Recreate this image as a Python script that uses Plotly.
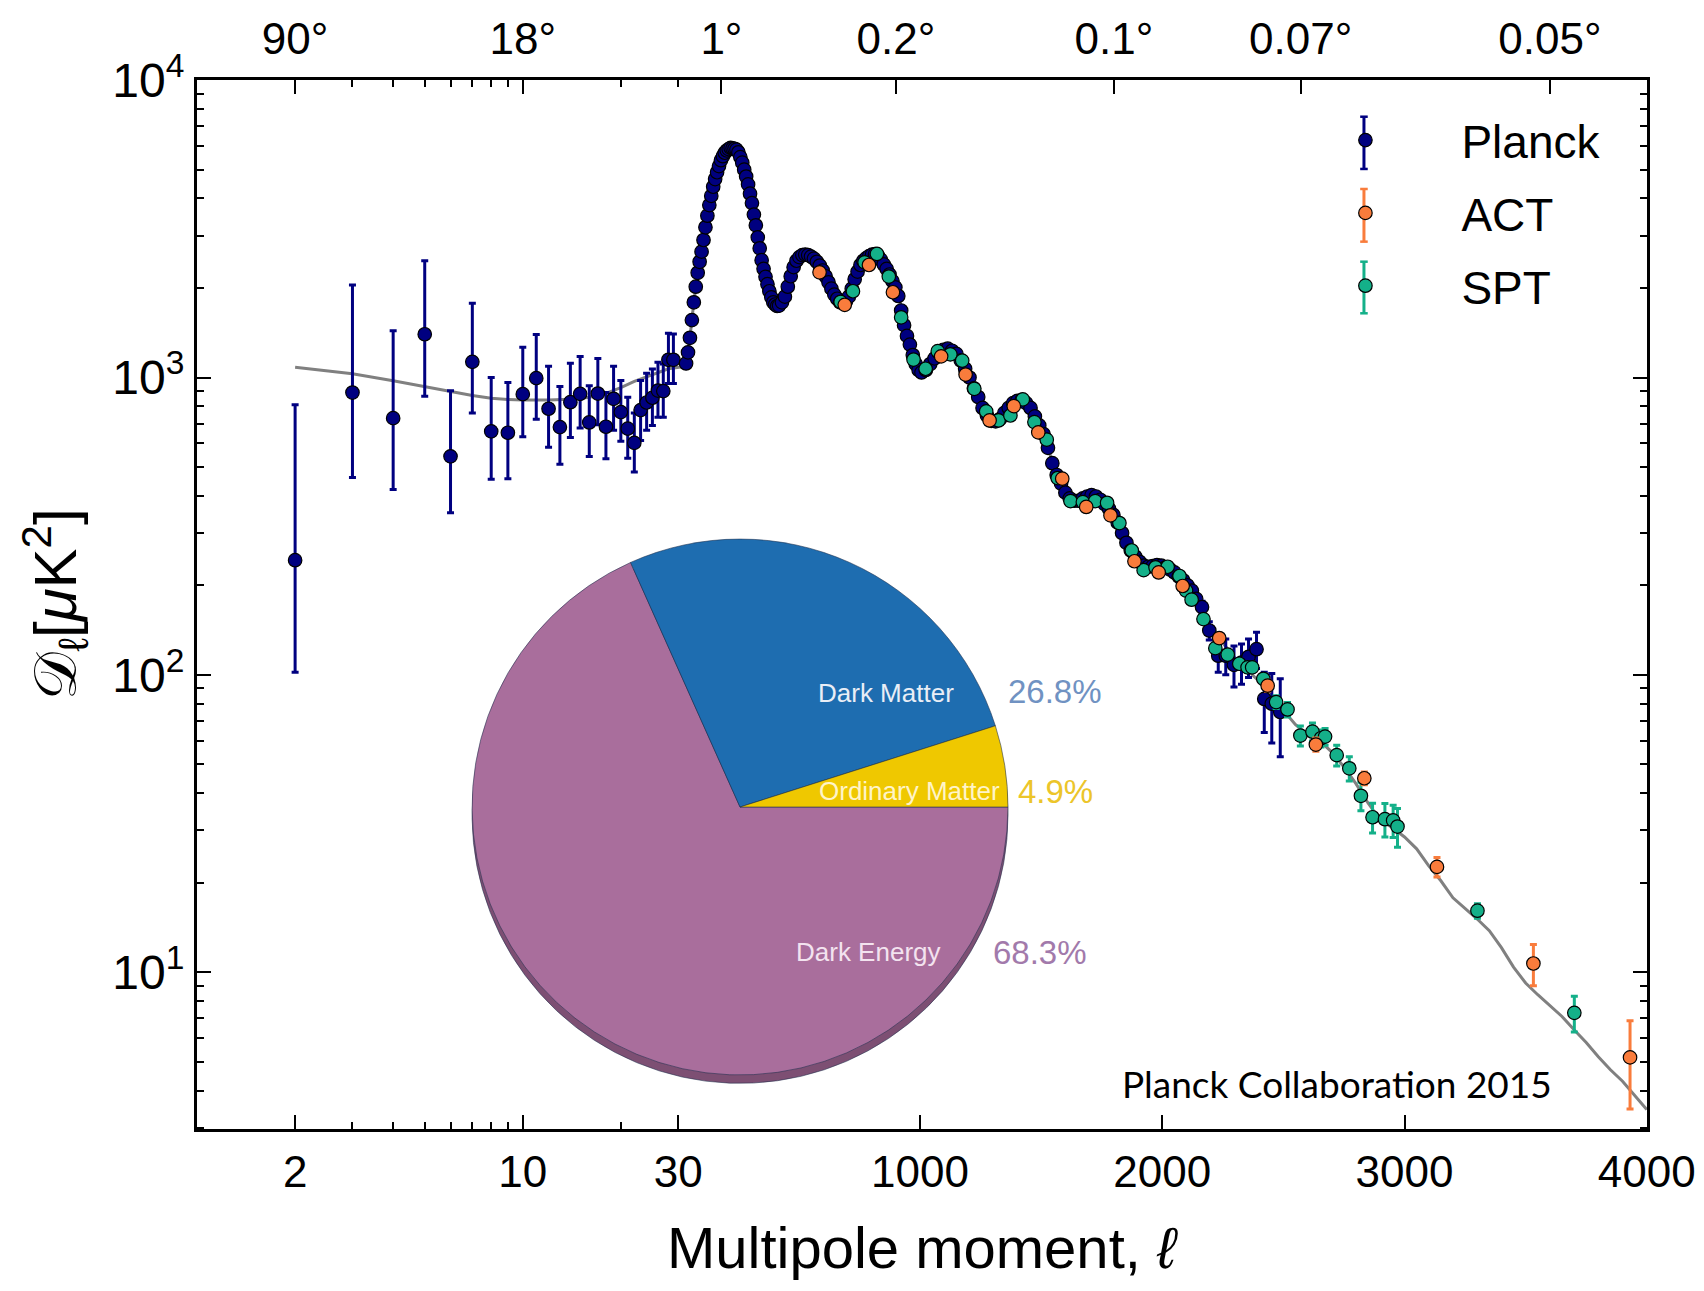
import numpy as np
import plotly.graph_objects as go

# --- data -----------------------------------------------------------------

# Planck low-ell (2..29), value with upper / lower end of the error bar
planck_low_ell = [2, 3, 4, 5, 6, 7, 8, 9, 10, 11, 12, 13, 14, 15, 16, 17, 18, 19, 20,
                  21, 22, 23, 24, 25, 26, 27, 28, 29]
planck_low_dl = [243, 890, 730, 1398, 543, 1129, 659, 652, 879, 995, 785, 681, 826, 881,
                 706, 883, 683, 848, 765, 673, 603, 777, 824, 855, 904, 900, 1147, 1147]
planck_low_hi = [810, 2048, 1435, 2472, 902, 1777, 1000, 962, 1264, 1395, 1091, 933, 1117,
                 1176, 938, 1158, 890, 1091, 977, 859, 759, 977, 1034, 1069, 1126, 1111,
                 1408, 1400]
planck_low_lo = [102, 461, 420, 865, 351, 759, 455, 457, 632, 724, 583, 511, 629, 676, 542,
                 694, 533, 665, 610, 535, 481, 614, 665, 690, 735, 735, 955, 955]

# Planck high-ell binned points
planck_ell = [34, 42, 50, 58, 66, 74, 82, 90, 98, 106, 114, 122, 130, 138, 146, 154, 162,
              170, 178, 186, 194, 202, 210, 218, 226, 234, 242, 250, 258, 266, 274, 282,
              290, 298, 306, 314, 322, 330, 338, 346, 354, 362, 370, 378, 386, 394, 402,
              410, 418,
              430, 442, 454, 466, 478, 490, 502, 514, 526, 538, 550, 562, 574, 586, 598,
              610, 622, 634, 646, 658, 670, 682, 694, 706, 718, 730, 742, 754, 766, 778,
              790, 802, 814, 826, 838, 850, 862, 874, 886, 898, 910, 922, 934, 946, 958,
              970, 982, 994,
              1006, 1024, 1042, 1060, 1078, 1096, 1114, 1132, 1150, 1168, 1186, 1204,
              1222, 1240, 1258, 1276, 1294, 1312, 1330, 1348, 1366, 1384, 1402, 1420,
              1438, 1456, 1474, 1492, 1510, 1528, 1546, 1564, 1582, 1600, 1618, 1636,
              1654, 1672, 1690, 1708, 1726, 1744, 1762, 1780, 1798, 1816, 1834, 1852,
              1870, 1888, 1906, 1924, 1942, 1960, 1978, 1996, 2014, 2032, 2050, 2068,
              2086, 2104, 2122, 2140]
planck_dl = [1115, 1215, 1360, 1560, 1790, 2020, 2250, 2450, 2650, 2900,
             3200, 3500, 3800, 4080, 4380, 4650, 4900, 5140, 5380, 5550,
             5700, 5800, 5860, 5920, 5900, 5880, 5840, 5720, 5510, 5280,
             5000, 4740, 4460, 4150, 3860, 3530, 3250, 2960, 2720, 2480,
             2320, 2180, 2060, 1950, 1860, 1790, 1760, 1740, 1745,
             1790, 1870, 2020, 2190, 2350, 2470, 2540, 2580, 2590, 2580,
             2550, 2510, 2450, 2380, 2290, 2190, 2090, 1990, 1900, 1840,
             1790, 1780, 1800, 1870, 1990, 2140, 2270, 2390, 2470, 2520,
             2560, 2590, 2600, 2570, 2490, 2400, 2320, 2220, 2110, 2010,
             1880, 1680, 1500, 1380, 1290, 1190, 1110, 1060,
             1040, 1060, 1110, 1160, 1210, 1240, 1250, 1230, 1200, 1140,
             1070, 1000, 920, 860, 790, 745, 715, 712, 725, 760,
             790, 820, 835, 840, 820, 790, 740, 690, 645, 580,
             515, 470, 440, 410, 392, 385, 385, 392, 398, 402,
             398, 388, 375, 362, 345, 325, 300, 278, 262, 250,
             240, 233, 231, 232, 234, 233, 230, 226, 221, 214,
             208, 200, 192, 180]

# Planck highest-ell points, where the error bars show
planck_tail_ell = [2164, 2194, 2231, 2262, 2296, 2327, 2356, 2389, 2421, 2452, 2487]
planck_tail_dl = [169, 141, 116, 116, 108, 110, 115, 122, 83, 80, 75]
planck_tail_err = [8, 10, 14, 16, 17, 17, 17, 17, 19, 21, 22]

act_ell = [585, 689, 789, 888, 1087, 1188, 1287, 1387, 1488, 1587, 1686, 1786, 1885, 1985,
           2084, 2235, 2435, 2634, 2834, 3134, 3532, 3931]
act_dl = [2258, 1755, 2390, 1935, 1178, 1023, 717, 801, 654, 457, 367, 344, 241, 221, 199,
          133, 92, 58.3, 44.9, 22.6, 10.7, 5.17]
act_err = [40, 30, 35, 30, 20, 15, 10, 10, 9, 7, 6, 6, 5, 5, 5, 4, 4, 3, 2.2, 1.7, 1.7, 1.7]

spt_ell = [672, 723, 771, 822, 871, 922, 973, 1023, 1073, 1125,
           1174, 1224, 1273, 1324, 1373, 1424, 1472, 1523, 1568, 1621,
           1672, 1723, 1772, 1823, 1874, 1923, 1972, 2022, 2071, 2098,
           2121, 2170, 2219, 2270, 2318, 2352, 2371, 2417, 2470, 2517,
           2570, 2620, 2655, 2672, 2720, 2772, 2820, 2868, 2919, 2953,
           2971, 3301, 3701]
spt_dl = [1795, 1950, 2440, 2603, 2185, 1594, 1149, 1070, 1226, 1196,
          1140, 916, 769, 717, 745, 844, 708, 618, 459, 384,
          381, 384, 379, 324, 262, 225, 230, 231, 215, 192,
          179, 154, 123, 117, 109, 106, 106, 97, 81, 76.5,
          62.5, 64.4, 61.2, 62, 53.7, 48.5, 39.2, 33.2, 32.7, 32.4,
          30.9, 16.1, 7.3]
spt_err = [40, 40, 45, 45, 40, 32, 25, 22, 22, 22,
           20, 17, 14, 13, 13, 14, 12, 11, 9, 8,
           8, 8, 7, 7, 6, 5, 5, 5, 5, 5,
           5, 4, 4, 4, 4, 4, 4, 4, 4, 4.3,
           4.8, 4.5, 4, 4, 4.3, 4.5, 4.3, 3.8, 4.2, 4,
           4.6, 0.9, 1.0]

# best-fit model curve
theory_ell = [2, 3, 4, 5, 6, 7, 8, 9, 10, 12, 14, 16, 18, 20, 22, 25, 28,
              30, 40, 50, 60, 70, 80,
              100, 120, 140, 160, 180, 200, 220, 240, 260, 280, 300, 320, 340, 360, 380,
              400, 420, 440, 460, 480, 500, 520, 540, 560, 580, 600, 620, 640, 660, 680,
              700, 720, 740, 760, 780, 800, 820, 840, 860, 880, 900, 920, 940, 960, 980,
              1000,
              1030, 1060, 1090, 1120, 1150, 1180, 1210, 1240, 1270, 1300, 1330, 1360,
              1390, 1420, 1450, 1480, 1510, 1540, 1570, 1600, 1630, 1660, 1690, 1720,
              1750, 1780, 1810, 1840, 1870, 1900, 1930, 1960, 1990, 2020, 2050, 2080,
              2110, 2140, 2170, 2200,
              2250, 2300, 2350, 2400, 2450, 2500, 2550, 2600, 2650, 2700, 2750, 2800,
              2850, 2900, 2950, 3000, 3050, 3100, 3150, 3200, 3250, 3300, 3350, 3400,
              3450, 3500, 3550, 3600, 3650, 3700, 3750, 3800, 3850, 3900, 3950, 4000]
theory_dl = [1083, 1029, 975, 930, 895, 870, 852, 843, 840, 840, 845, 858, 885, 925, 970,
             1025, 1070,
             1090, 1200, 1360, 1620, 1950, 2220,
             2700, 3380, 4150, 4850, 5400, 5750, 5900, 5850, 5450, 4800,
             4150, 3400, 2700, 2250, 1950, 1790, 1750, 1850, 2100, 2380,
             2540, 2590, 2580, 2520, 2420, 2280, 2110, 1950, 1830, 1780,
             1830, 2020, 2240, 2420, 2520, 2580, 2580, 2480, 2340, 2180,
             2000, 1760, 1460, 1290, 1140, 1050,
             1070, 1160, 1230, 1240, 1200, 1100, 980, 860, 760, 715,
             720, 780, 825, 835, 800, 730, 650, 540, 460, 410,
             385, 385, 395, 400, 385, 365, 335, 295, 265, 245,
             232, 232, 233, 230, 220, 210, 200, 182, 162, 145,
             128, 114, 104, 95, 85, 76, 68, 63, 60, 55,
             49, 43, 37, 32.5, 30.6, 28.5, 26, 22.8, 20.3, 17.8,
             16.4, 15.1, 13.8, 12.1, 10.4, 9.2, 8.4, 7.7, 7.1, 6.4,
             5.8, 5.2, 4.7, 4.3, 3.85, 3.45]

# inset pie
pie_labels = ["Dark Energy", "Dark Matter", "Ordinary Matter"]
pie_values = [68.3, 26.8, 4.9]
pie_colors = ["#a96e9c", "#1e6db0", "#efc800"]
pie_shadow = ["#7d4f73", "#174f80", "#a58a00"]

bottom_ticks = [2, 10, 30, 1000, 2000, 3000, 4000]
top_angles = ["90°", "18°", "1°", "0.2°", "0.1°", "0.07°", "0.05°"]
top_ells = [2, 10, 180, 900, 1800, 180 / 0.07, 3600]

# --- hybrid axis: log below ell=30, linear above ---------------------------
LOG_K = 1344.7
LOG_END = 1.5


def xpos(ell):
    ell = np.asarray(ell, dtype=float)
    return np.where(ell < 30, LOG_END + LOG_K * np.log10(ell / 30.0), ell)


def tickpos(v):
    return LOG_END if v == 30 else float(xpos(v))


NAVY = "#000080"
ORANGE = "#f97c3c"
GREEN = "#14b089"
FONT = "Liberation Sans, Arial, sans-serif"
TICK = 44

fig = go.Figure()

fig.add_trace(go.Scatter(x=xpos(theory_ell), y=theory_dl, mode="lines",
                         line=dict(color="#808080", width=3), showlegend=False,
                         hoverinfo="skip"))

mk = dict(size=13.5, line=dict(color="black", width=1.2))

lo_dl = np.array(planck_low_dl)
fig.add_trace(go.Scatter(
    x=xpos(planck_low_ell), y=planck_low_dl, mode="markers",
    marker=dict(color=NAVY, **mk),
    error_y=dict(type="data", symmetric=False,
                 array=np.array(planck_low_hi) - lo_dl,
                 arrayminus=lo_dl - np.array(planck_low_lo),
                 color=NAVY, thickness=3, width=3.5),
    name="Planck", legendgroup="planck", showlegend=True, legendrank=1))
fig.add_trace(go.Scatter(
    x=xpos(planck_ell), y=planck_dl, mode="markers",
    marker=dict(color=NAVY, **mk),
    name="Planck", legendgroup="planck", showlegend=False))
fig.add_trace(go.Scatter(
    x=xpos(planck_tail_ell), y=planck_tail_dl, mode="markers",
    marker=dict(color=NAVY, **mk),
    error_y=dict(type="data", array=planck_tail_err, color=NAVY, thickness=3, width=3.5),
    name="Planck", legendgroup="planck", showlegend=False))

fig.add_trace(go.Scatter(
    x=xpos(spt_ell), y=spt_dl, mode="markers",
    marker=dict(color=GREEN, **mk),
    error_y=dict(type="data", array=spt_err, color=GREEN, thickness=3, width=3.5),
    name="SPT", legendgroup="spt", legendrank=3))
fig.add_trace(go.Scatter(
    x=xpos(act_ell), y=act_dl, mode="markers",
    marker=dict(color=ORANGE, **mk),
    error_y=dict(type="data", array=act_err, color=ORANGE, thickness=3, width=3.5),
    name="ACT", legendgroup="act", legendrank=2))

# empty trace so the top (angular scale) axis is drawn
fig.add_trace(go.Scatter(x=[], y=[], xaxis="x2", showlegend=False, hoverinfo="skip"))

# pie with a darker copy below it as the rim
pie_x = [0.1897, 0.5593]
pie_y = [0.0515, 0.5624]
for cols, dy in ((pie_shadow, -0.008), (pie_colors, 0.0)):
    fig.add_trace(go.Pie(
        labels=pie_labels, values=pie_values, sort=False, direction="clockwise",
        rotation=90, textinfo="none", hoverinfo="label+percent", showlegend=False,
        marker=dict(colors=cols, line=dict(color="rgba(30,45,75,0.55)", width=1)),
        domain=dict(x=pie_x, y=[pie_y[0] + dy, pie_y[1] + dy])))

x_range = [-1985, 4001]
minor_log = [3, 4, 5, 6, 7, 8, 9, 20]

# the page body has an 8px margin, so the figure is a little smaller than the window
fig.update_layout(
    width=1688, height=1275,
    margin=dict(l=189, r=49, t=72, b=154, autoexpand=False),
    plot_bgcolor="white", paper_bgcolor="white",
    font=dict(family=FONT, color="black"),
    xaxis=dict(range=x_range, showgrid=False, zeroline=False, automargin=False,
               showline=True, linecolor="black", linewidth=3, mirror=True,
               ticks="inside", ticklen=14, tickwidth=1.5, tickcolor="black",
               tickvals=[tickpos(v) for v in bottom_ticks],
               ticktext=[str(v) for v in bottom_ticks],
               tickfont=dict(size=TICK, family=FONT), ticklabelstandoff=2,
               minor=dict(tickvals=list(xpos(minor_log)), ticks="inside", ticklen=7,
                          tickwidth=1.5, tickcolor="black", showgrid=False)),
    xaxis2=dict(range=x_range, overlaying="x", side="top", anchor="y", automargin=False,
                showgrid=False, zeroline=False, showline=False,
                ticks="inside", ticklen=14, tickwidth=1.5, tickcolor="black",
                tickvals=list(xpos(top_ells)), ticktext=top_angles,
                tickfont=dict(size=TICK, family=FONT), ticklabelstandoff=16,
                minor=dict(tickvals=list(xpos(minor_log)) + [LOG_END], ticks="inside",
                           ticklen=7, tickwidth=1.5, tickcolor="black", showgrid=False)),
    yaxis=dict(type="log", range=[np.log10(2.97), 4.0005], showgrid=False, zeroline=False,
               automargin=False,
               showline=True, linecolor="black", linewidth=3, mirror="ticks",
               ticks="inside", ticklen=14, tickwidth=1.5, tickcolor="black",
               tickvals=[10, 100, 1000, 10000],
               ticktext=["10<sup>1</sup>", "10<sup>2</sup>", "10<sup>3</sup>",
                         "10<sup>4</sup>"],
               tickfont=dict(size=48, family=FONT),
               minor=dict(tickvals=[m * 10 ** e for e in range(0, 4) for m in range(2, 10)
                                    if m * 10 ** e > 2.97],
                          ticks="inside", ticklen=7, tickwidth=1.5, tickcolor="black",
                          showgrid=False)),
    legend=dict(x=0.7396, y=0.9774, xanchor="left", yanchor="top",
                font=dict(size=46, family=FONT), itemwidth=182,
                tracegroupgap=10, bgcolor="rgba(0,0,0,0)"),
    showlegend=True,
)

ann = [
    dict(text="Multipole moment, <i>ℓ</i>", x=0.5004, y=-0.113, size=58, color="black",
         family=FONT),
    dict(text="Planck Collaboration 2015", x=0.7859, y=0.0434, size=37, color="black",
         family="Lato"),
    dict(text="Dark Matter", x=0.4752, y=0.4160, size=26, color="#e9eef6", family=FONT),
    dict(text="Ordinary Matter", x=0.4915, y=0.3220, size=26, color="#fff4c8", family=FONT),
    dict(text="Dark Energy", x=0.4631, y=0.1687, size=26, color="#f3e3ef", family=FONT),
    dict(text="26.8%", x=0.5917, y=0.4166, size=33, color="#7092c2", family=FONT),
    dict(text="4.9%", x=0.5923, y=0.3222, size=33, color="#ecc52a", family=FONT),
    dict(text="68.3%", x=0.5812, y=0.1687, size=33, color="#a27aab", family=FONT),
]
for a in ann:
    fig.add_annotation(text=a["text"], x=a["x"], y=a["y"], xref="paper", yref="paper",
                       xanchor="center", yanchor="middle", showarrow=False,
                       font=dict(size=a["size"], color=a["color"], family=a["family"]))

fig.add_annotation(text="𝒟<sub>ℓ</sub>[<i>μ</i>K<sup>2</sup>]", x=-0.0975, y=0.5005,
                   xref="paper", yref="paper", textangle=-90, showarrow=False,
                   xanchor="center", yanchor="middle",
                   font=dict(size=60, family="Liberation Sans, DejaVu Serif", color="black"))

# error-bar glyphs next to the legend markers
leg_x = 0.8048
cap = 0.0026
for col, y0, y1 in ((NAVY, 0.9152, 0.9650), (ORANGE, 0.8459, 0.8961), (GREEN, 0.7776, 0.8268)):
    fig.add_shape(type="line", xref="paper", yref="paper", x0=leg_x, x1=leg_x, y0=y0, y1=y1,
                  line=dict(color=col, width=3), layer="below")
    for yy in (y0, y1):
        fig.add_shape(type="line", xref="paper", yref="paper", x0=leg_x - cap, x1=leg_x + cap,
                      y0=yy, y1=yy, line=dict(color=col, width=2.5), layer="below")

fig.write_html("out.html")
